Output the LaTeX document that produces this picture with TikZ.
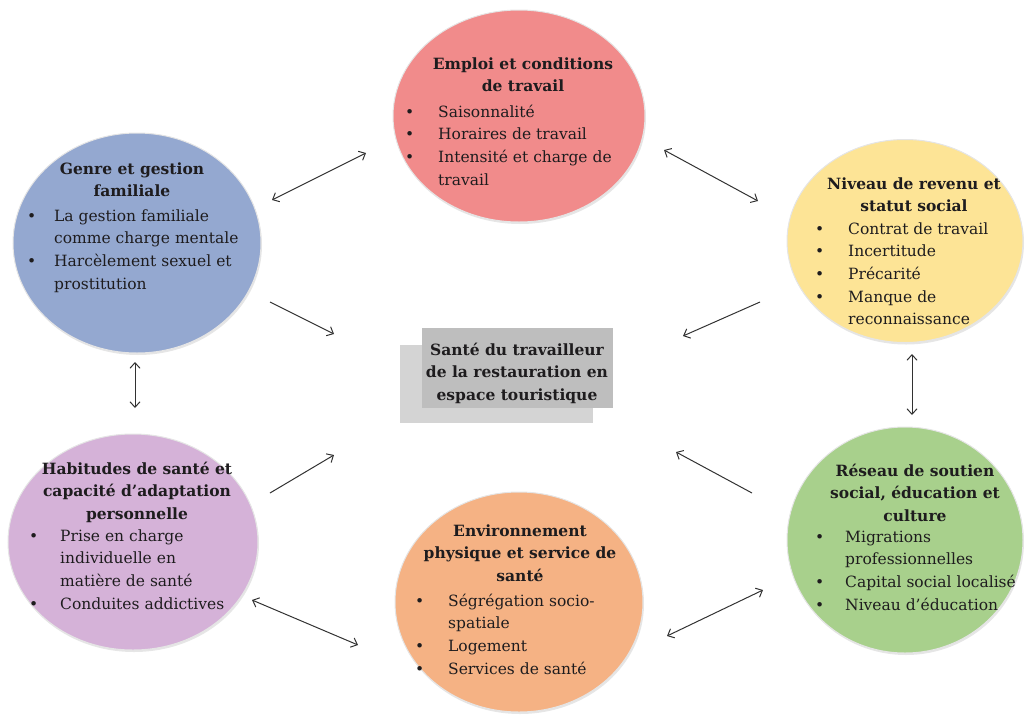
\documentclass[tikz,border=0pt]{standalone}
\usepackage{fontspec}
\setmainfont{DejaVu Serif}
\usetikzlibrary{arrows.meta,shapes.geometric,shadows}
\definecolor{cred}{RGB}{241,139,139}
\definecolor{cblue}{RGB}{148,168,208}
\definecolor{cyellow}{RGB}{253,228,150}
\definecolor{cpurple}{RGB}{213,178,216}
\definecolor{corange}{RGB}{245,178,132}
\definecolor{cgreen}{RGB}{168,208,140}
\definecolor{cfront}{RGB}{190,190,190}
\definecolor{cback}{RGB}{212,212,212}
\definecolor{ctext}{RGB}{30,28,30}
\definecolor{carrow}{RGB}{50,50,50}
\newcommand\bodysize{\fontsize{15.5}{22.7}\selectfont}
\newcommand\bt[1]{\makebox[#1][l]{\textbullet}}
\tikzset{
  circ/.style={ellipse, inner sep=0pt, draw=black!10, line width=1pt,
    drop shadow={shadow xshift=1pt, shadow yshift=-2pt, opacity=0.2}},
  ttl/.style={anchor=base, inner sep=0pt, text=ctext, font=\bodysize\bfseries},
  lst/.style={anchor=base west, inner sep=0pt, text=ctext, font=\bodysize},
  conn/.style={draw=carrow, line width=1pt},
  both/.style={conn, {Straight Barb[length=5.5pt,width=10pt]}-{Straight Barb[length=5.5pt,width=10pt]}},
  one/.style={conn, -{Straight Barb[length=5.5pt,width=10pt]}},
}
\begin{document}
\begin{tikzpicture}[x=1pt,y=-1pt]
\path[use as bounding box] (0,0) rectangle (1026,718);

% circles
\node[circ, fill=cred,    minimum width=252, minimum height=212] (emploi) at (519,116) {};
\node[circ, fill=cblue,   minimum width=248, minimum height=220] (genre)  at (137,243) {};
\node[circ, fill=cyellow, minimum width=236, minimum height=203] (revenu) at (905,241) {};
\node[circ, fill=cpurple, minimum width=250, minimum height=216] (habit)  at (133,542) {};
\node[circ, fill=corange, minimum width=248, minimum height=220] (envir)  at (519,602) {};
\node[circ, fill=cgreen,  minimum width=236, minimum height=226] (reseau) at (905,540) {};

% centre box
\node[rectangle, fill=cback,  minimum width=193, minimum height=78, inner sep=0] (back)  at (496.5,384) {};
\node[rectangle, fill=cfront, minimum width=191, minimum height=80, inner sep=0] (front) at (517.5,368) {};
\node[ttl] (sante) at (517,355) {\begin{tabular}[t]{@{}c@{}}Santé du travailleur\\de la restauration en\\espace touristique\end{tabular}};

% Emploi
\node[ttl] (emploiT) at (523,69) {\begin{tabular}[t]{@{}c@{}}Emploi et conditions\\de travail\end{tabular}};
\node[lst] (emploiL) at (405,117) {\begin{tabular}[t]{@{}l@{}l@{}}\bt{33pt}&Saisonnalité\\\bt{33pt}&Horaires de travail\\\bt{33pt}&Intensité et charge de\\&travail\end{tabular}};

% Genre
\node[ttl] (genreT) at (132,174) {\begin{tabular}[t]{@{}c@{}}Genre et gestion\\familiale\end{tabular}};
\node[lst] (genreL) at (27,221) {\begin{tabular}[t]{@{}l@{}l@{}}\bt{27pt}&La gestion familiale\\&comme charge mentale\\\bt{27pt}&Harcèlement sexuel et\\&prostitution\end{tabular}};

% Revenu
\node[ttl] (revenuT) at (914,189) {\begin{tabular}[t]{@{}c@{}}Niveau de revenu et\\statut social\end{tabular}};
\node[lst] (revenuL) at (815,234) {\begin{tabular}[t]{@{}l@{}l@{}}\bt{33pt}&Contrat de travail\\\bt{33pt}&Incertitude\\\bt{33pt}&Précarité\\\bt{33pt}&Manque de\\&reconnaissance\end{tabular}};

% Habitudes
\node[ttl] (habitT) at (137,474) {\begin{tabular}[t]{@{}c@{}}Habitudes de santé et\\capacité d’adaptation\\personnelle\end{tabular}};
\node[lst] (habitL) at (29,541) {\begin{tabular}[t]{@{}l@{}l@{}}\bt{31pt}&Prise en charge\\&individuelle en\\&matière de santé\\\bt{31pt}&Conduites addictives\end{tabular}};

% Environnement
\node[ttl] (envirT) at (520,536) {\begin{tabular}[t]{@{}c@{}}Environnement\\physique et service de\\santé\end{tabular}};
\node[lst] (envirL) at (415,606) {\begin{tabular}[t]{@{}l@{}l@{}}\bt{33pt}&Ségrégation socio-\\&spatiale\\\bt{33pt}&Logement\\\bt{33pt}&Services de santé\end{tabular}};

% Reseau
\node[ttl] (reseauT) at (915,476) {\begin{tabular}[t]{@{}c@{}}Réseau de soutien\\social, éducation et\\culture\end{tabular}};
\node[lst] (reseauL) at (815,542) {\begin{tabular}[t]{@{}l@{}l@{}}\bt{30pt}&Migrations\\&professionnelles\\\bt{30pt}&Capital social localisé\\\bt{30pt}&Niveau d'éducation\end{tabular}};

% arrow end points
\coordinate (a1s) at (272,200); \coordinate (a1e) at (366,153);
\coordinate (a2s) at (664,150); \coordinate (a2e) at (758,201);
\coordinate (a3s) at (270,302); \coordinate (a3e) at (334,334);
\coordinate (a4s) at (760,302); \coordinate (a4e) at (683,336);
\coordinate (a5s) at (270,493); \coordinate (a5e) at (334,455);
\coordinate (a6s) at (752,493); \coordinate (a6e) at (676,452);
\coordinate (a7s) at (135,362); \coordinate (a7e) at (135,408);
\coordinate (a8s) at (912,354); \coordinate (a8e) at (912,415);
\coordinate (a9s) at (252,600); \coordinate (a9e) at (358,645);
\coordinate (a10s) at (667,636); \coordinate (a10e) at (763,590);

\draw[both] (a1s) -- (a1e);
\draw[both] (a2s) -- (a2e);
\draw[one] (a3s) -- (a3e);
\draw[one] (a4s) -- (a4e);
\draw[one] (a5s) -- (a5e);
\draw[one] (a6s) -- (a6e);
\draw[both] (a7s) -- (a7e);
\draw[both] (a8s) -- (a8e);
\draw[both] (a9s) -- (a9e);
\draw[both] (a10s) -- (a10e);
\end{tikzpicture}
\end{document}
